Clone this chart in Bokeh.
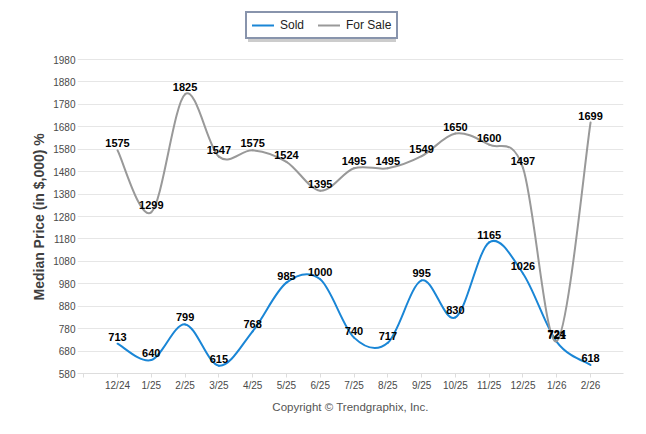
import numpy as np
from bokeh.plotting import figure
from bokeh.models import FixedTicker, Legend, LegendItem, Range1d, Title
from bokeh.core.properties import value
from bokeh.embed import file_html
from bokeh.resources import INLINE

months = ["12/24", "1/25", "2/25", "3/25", "4/25", "5/25", "6/25", "7/25",
          "8/25", "9/25", "10/25", "11/25", "12/25", "1/26", "2/26"]
sold = [713, 640, 799, 615, 768, 985, 1000, 740, 717, 995, 830, 1165, 1026, 721, 618]
for_sale = [1575, 1299, 1825, 1547, 1575, 1524, 1395, 1495, 1495, 1549, 1650, 1600, 1497, 724, 1699]
y_ticks = list(range(580, 1981, 100))

SOLD_COLOR = "#1A86D6"
SALE_COLOR = "#999999"
FONT = "Liberation Sans"


def bezier_segments(vals):
    """Catmull-Rom spline through the data points, expressed as cubic Bezier control points."""
    y = np.array(vals, dtype=float)
    x = np.arange(len(y), dtype=float)
    ypad = np.concatenate([[y[0]], y, [y[-1]]])
    xpad = np.concatenate([[x[0]], x, [x[-1]]])
    my = (ypad[2:] - ypad[:-2]) / 2.0
    mx = (xpad[2:] - xpad[:-2]) / 2.0
    return dict(x0=x[:-1], y0=y[:-1], x1=x[1:], y1=y[1:],
                cx0=x[:-1] + mx[:-1] / 3.0, cy0=y[:-1] + my[:-1] / 3.0,
                cx1=x[1:] - mx[1:] / 3.0, cy1=y[1:] - my[1:] / 3.0)


# frame spans 8..373 px vertically; 580..1980 occupies the lower 314 px
y_top = 1980 + 51 * 1400 / 314.0

p = figure(width=630, height=418, output_backend="svg", toolbar_location=None,
           x_range=Range1d(-1.184, 14.975), y_range=Range1d(580, y_top),
           min_border_left=77, min_border_right=7, min_border_top=8, min_border_bottom=45)
p.outline_line_color = None
p.background_fill_color = "white"
p.border_fill_color = "white"

# grid
p.xgrid.grid_line_color = None
p.ygrid.grid_line_color = "#e6e6e6"
p.ygrid.ticker = FixedTicker(ticks=y_ticks)

# x axis
xt = list(range(-1, len(months) + 1))
p.xaxis.ticker = FixedTicker(ticks=xt)
overrides = {i: "" for i in xt}
for i, m in enumerate(months):
    overrides[i] = m
p.xaxis.major_label_overrides = overrides
p.xaxis.axis_line_color = "#dddddd"
p.xaxis.major_tick_line_color = "#dddddd"
p.xaxis.major_tick_out = 4
p.xaxis.major_tick_in = 0
p.xaxis.minor_tick_line_color = None
p.xaxis.major_label_standoff = 2
p.xaxis.major_label_text_font = FONT
p.xaxis.major_label_text_font_size = "10px"
p.xaxis.major_label_text_color = "#4a4a4a"
p.xaxis.axis_label = "Copyright \u00a9 Trendgraphix, Inc."
p.xaxis.axis_label_text_font = FONT
p.xaxis.axis_label_text_font_size = "11.5px"
p.xaxis.axis_label_text_font_style = "normal"
p.xaxis.axis_label_text_color = "#555555"
p.xaxis.axis_label_standoff = 7

# y axis
p.yaxis.ticker = FixedTicker(ticks=y_ticks)
p.yaxis.axis_line_color = None
p.yaxis.major_tick_line_color = None
p.yaxis.minor_tick_line_color = None
p.yaxis.major_tick_out = 0
p.yaxis.major_tick_in = 0
p.yaxis.major_label_standoff = 2
p.yaxis.major_label_text_font = FONT
p.yaxis.major_label_text_font_size = "10px"
p.yaxis.major_label_text_color = "#4a4a4a"

ytitle = Title(text="Median Price (in $,000) %", align="left", offset=73,
               text_font=FONT, text_font_size="14px", text_font_style="bold",
               text_color="#404040", standoff=8)
p.add_layout(ytitle, "left")

# lines (smooth)
r_sold = p.bezier(line_color=SOLD_COLOR, line_width=2, line_cap="round",
                  **bezier_segments(sold))
r_sale = p.bezier(line_color=SALE_COLOR, line_width=2, line_cap="round",
                  **bezier_segments(for_sale))

# data labels
idx = list(range(len(months)))
for vals in (sold, for_sale):
    p.text(x=idx, y=vals, text=[str(v) for v in vals], text_align="center",
           text_baseline="bottom", y_offset=-3, text_font=value(FONT),
           text_font_size="11px", text_font_style="bold", text_color="black")

# legend drop shadow: a blank single-item legend box, offset by 3 px
d1 = p.line([], [], line_alpha=0)
shadow = Legend(items=[LegendItem(label=" ", renderers=[d1])],
                orientation="horizontal", location=(171, 331), margin=0, padding=5,
                glyph_width=22, glyph_height=12, label_height=12, label_standoff=6,
                label_width=120, label_text_font_size="12px", label_text_alpha=0,
                border_line_color=None, background_fill_color="#999999",
                background_fill_alpha=0.5)
p.add_layout(shadow, "center")

legend = Legend(items=[LegendItem(label="Sold", renderers=[r_sold]),
                       LegendItem(label="For Sale", renderers=[r_sale])],
                orientation="horizontal", location=(168, 334), margin=0, padding=5,
                spacing=14, glyph_width=22, glyph_height=12, label_height=12,
                label_standoff=6, label_text_font=FONT, label_text_font_size="12px",
                label_text_color="#222222", border_line_color="#12295a",
                border_line_width=2, background_fill_color="white",
                background_fill_alpha=1.0)
p.add_layout(legend, "center")

open("out.html", "w").write(file_html(p, INLINE))
